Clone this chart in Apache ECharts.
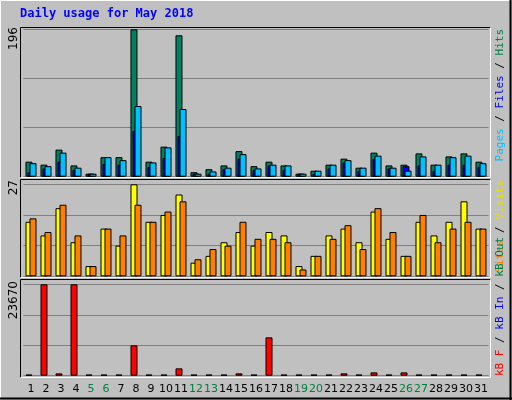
<!DOCTYPE html>
<html><head><meta charset="utf-8">
<script src="https://cdn.jsdelivr.net/npm/echarts@6/dist/echarts.min.js"></script>
<style>html,body{margin:0;padding:0;background:#c0c0c0}#c{width:512px;height:400px}</style>
</head><body><div id="c"></div>
<script>
const days = ['1','2','3','4','5','6','7','8','9','10','11','12','13','14','15','16','17','18','19','20','21','22','23','24','25','26','27','28','29','30','31'];
const weekendDays = ['5','6','12','13','19','20','26','27'];
const hits  = [20,16,36,15,4,26,26,196,20,40,188,6,10,15,34,14,20,15,4,8,16,24,12,32,15,16,31,16,27,31,20];
const files = [6,11,20,9,4,17,16,61,13,25,54,4,4,10,24,9,15,9,4,4,11,19,8,24,11,14,15,8,16,16,13];
const pages = [18,14,32,12,4,26,22,94,19,39,90,4,7,12,30,11,16,15,4,8,16,22,12,28,12,8,27,16,26,28,18];
const visits = [16,12,20,10,3,14,9,27,16,18,24,4,6,10,13,9,13,12,3,6,12,14,10,19,11,6,16,12,16,22,14];
const sites  = [17,13,21,12,3,14,12,21,16,19,22,5,8,9,16,11,11,10,2,6,11,15,8,20,13,6,18,10,14,16,14];
const kbF  = [300,23670,600,23670,300,300,300,7860,300,300,1900,300,300,300,600,300,9930,300,300,300,300,600,300,860,300,860,300,300,300,300,300];
const kbIn = [0,0,0,0,0,0,0,0,0,0,0,0,0,0,0,0,0,0,0,0,0,0,0,0,0,0,0,0,0,0,0];
const yMax = [196, 27, 23670];

const chart = echarts.init(document.getElementById('c'));
const L = 23.5, W = 465;
const grids = [{left:L,width:W,top:29.3,height:147.4},{left:L,width:W,top:184.3,height:92},{left:L,width:W,top:284.3,height:91.4}];
function xa(i, show){return {type:'category',gridIndex:i,data:days,boundaryGap:true,
  axisLine:{show:false},axisTick:{show:false},
  axisLabel:{show:show,margin:8,fontFamily:'DejaVu Sans',fontSize:11,interval:0,
    color:function(v){return weekendDays.indexOf(v)>=0?'#008040':'#000';}}};}
function ya(i){return {type:'value',gridIndex:i,min:0,max:yMax[i],interval:yMax[i]/3,
  axisLine:{show:false},axisTick:{show:false},axisLabel:{show:false},
  splitLine:{show:true,lineStyle:{color:'#808080',width:1}}};}
function bar(name,data,xi,color,gap){return {name:name,type:'bar',xAxisIndex:xi,yAxisIndex:xi,data:data,
  barWidth:7,barGap:gap,itemStyle:{color:color,borderColor:'#000',borderWidth:1},animation:false,silent:true};}
const g = [];
function frame(y0,y1){
  g.push({type:'line',shape:{x1:20.5,y1:y0,x2:490.5,y2:y0},style:{stroke:'#000',lineWidth:1}});
  g.push({type:'line',shape:{x1:20.5,y1:y0,x2:20.5,y2:y1},style:{stroke:'#000',lineWidth:1}});
  g.push({type:'line',shape:{x1:20.5,y1:y1,x2:490.5,y2:y1},style:{stroke:'#fff',lineWidth:1}});
  g.push({type:'line',shape:{x1:490.5,y1:y0,x2:490.5,y2:y1},style:{stroke:'#fff',lineWidth:1}});
}
frame(27.5,177.5); frame(179.5,277.5); frame(279.5,377.5);
g.push({type:'line',shape:{x1:0.5,y1:0.5,x2:511.5,y2:0.5},style:{stroke:'#fff'}});
g.push({type:'line',shape:{x1:0.5,y1:0.5,x2:0.5,y2:399.5},style:{stroke:'#fff'}});
g.push({type:'line',shape:{x1:0,y1:398.5,x2:512,y2:398.5},style:{stroke:'#000',lineWidth:2}});
g.push({type:'line',shape:{x1:510.5,y1:0,x2:510.5,y2:400},style:{stroke:'#000',lineWidth:2}});
g.push({type:'text',left:20,top:8,style:{text:'Daily usage for May 2018',fill:'#0000ff',font:'bold 12px "DejaVu Sans Mono"'}});
function ylab(t,y){g.push({type:'text',x:14,y:y,rotation:Math.PI/2,style:{text:t,fill:'#000',font:'12px "DejaVu Sans"',align:'right',verticalAlign:'middle'}});}
ylab(String(yMax[0]),27); ylab(String(yMax[1]),180); ylab(String(yMax[2]),281);
const mono='11px "DejaVu Sans Mono"';
function rlab(text,rich,y,align){g.push({type:'text',x:500,y:y,rotation:Math.PI/2,style:{text:text,rich:rich,font:mono,align:align,verticalAlign:'middle'}});}
rlab('{p|Pages}{s| / }{f|Files}{s| / }{h|Hits}',{p:{fill:'#00c0ff',font:mono},f:{fill:'#0000ff',font:mono},h:{fill:'#008040',font:mono},s:{fill:'#000',font:mono}},29,'right');
rlab('{a|Sites}{s| / }{b|Visits}',{a:{fill:'#ff8000',font:mono},b:{fill:'#e0e000',font:mono},s:{fill:'#000',font:mono}},180,'right');
rlab('{a|kB F}{s| / }{b|kB In}{s| / }{c|kB Out}',{a:{fill:'#ff0000',font:mono},b:{fill:'#0000ff',font:mono},c:{fill:'#008040',font:mono},s:{fill:'#000',font:mono}},376,'left');

chart.setOption({
  backgroundColor:'#c0c0c0',animation:false,
  grid:grids,
  xAxis:[xa(0,false),xa(1,false),xa(2,true)],
  yAxis:[ya(0),ya(1),ya(2)],
  series:[
    bar('Hits',hits,0,'#008060','-71%'),
    bar('Files',files,0,'#0000ff','-71%'),
    bar('Pages',pages,0,'#00c0ff','-71%'),
    bar('Visits',visits,1,'#ffff00','-43%'),
    bar('Sites',sites,1,'#ff8000','-43%'),
    bar('kB F',kbF,2,'#ff0000','-43%'),
    Object.assign(bar('kB In',kbIn,2,'transparent','-43%'),{itemStyle:{color:'transparent',borderWidth:0}})
  ],
  graphic:g
});
</script></body></html>
